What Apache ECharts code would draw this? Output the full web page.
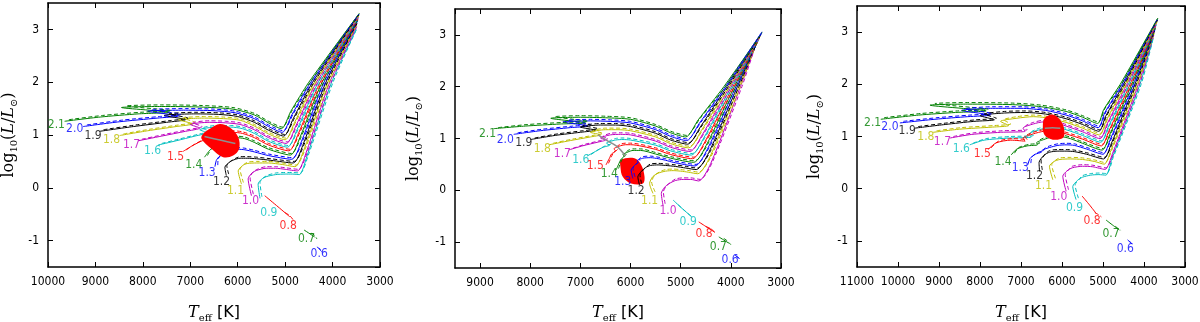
<!DOCTYPE html>
<html>
<head>
<meta charset="utf-8">
<script src="https://cdn.jsdelivr.net/npm/echarts@6.0.0/dist/echarts.min.js"></script>
<style>
html, body { margin: 0; padding: 0; background: #fff; }
#main { width: 1200px; height: 322px; }
</style>
</head>
<body>
<div id="main"></div>
<script>
// masses of the tracks, top to bottom
var masses = ['2.1', '2.0', '1.9', '1.8', '1.7', '1.6', '1.5', '1.4', '1.3', '1.2', '1.1', '1.0', '0.9', '0.8', '0.7', '0.6'];

// tracks: flat lists of Teff, log L pairs (one list per mass)
var p1Solid = [
  [9650,1.26, 8900,1.34, 8100,1.40, 7450,1.43, 8450,1.52, 7600,1.54, 6800,1.53, 6100,1.49, 5650,1.38, 5350,1.23, 5080,1.12, 4880,1.45, 4500,2.00, 3440,3.30],
  [9260,1.16, 8500,1.25, 7700,1.32, 7250,1.36, 7900,1.45, 7100,1.47, 6500,1.46, 6050,1.42, 5650,1.31, 5350,1.16, 5060,1.05, 4860,1.38, 4460,2.00, 3445,3.29],
  [8910,1.07, 8200,1.16, 7500,1.24, 7100,1.29, 7550,1.37, 6900,1.40, 6400,1.39, 6000,1.35, 5650,1.24, 5350,1.09, 5030,0.98, 4830,1.31, 4420,2.00, 3450,3.27],
  [8490,0.99, 7900,1.08, 7300,1.16, 6950,1.21, 7250,1.29, 6700,1.32, 6300,1.31, 5950,1.28, 5650,1.17, 5350,1.02, 5000,0.91, 4800,1.24, 4380,2.00, 3455,3.25],
  [8100,0.89, 7600,0.98, 7100,1.07, 6800,1.13, 7000,1.20, 6600,1.24, 6250,1.23, 5950,1.20, 5650,1.10, 5350,0.95, 4975,0.84, 4775,1.17, 4340,2.00, 3460,3.23],
  [7680,0.81, 7300,0.89, 6900,0.98, 6650,1.04, 6800,1.10, 6450,1.15, 6150,1.15, 5900,1.12, 5650,1.03, 5350,0.88, 4950,0.77, 4750,1.10, 4300,2.00, 3465,3.21],
  [7150,0.69, 6950,0.80, 6750,0.89, 6550,0.95, 6650,1.01, 6350,1.05, 6100,1.05, 5900,1.03, 5650,0.95, 5350,0.81, 4920,0.70, 4720,1.03, 4260,2.00, 3470,3.19],
  [6700,0.58, 6600,0.70, 6480,0.80, 6380,0.86, 6450,0.91, 6250,0.95, 6050,0.95, 5850,0.93, 5650,0.86, 5350,0.73, 4890,0.62, 4690,0.95, 4220,2.00, 3475,3.17],
  [6480,0.40, 6450,0.52, 6380,0.60, 6250,0.66, 6300,0.71, 6150,0.73, 6000,0.73, 5850,0.72, 5650,0.68, 5350,0.61, 4860,0.54, 4660,0.87, 4180,2.00, 3480,3.15],
  [6240,0.23, 6270,0.39, 6180,0.48, 6080,0.53, 5950,0.56, 5800,0.56, 5600,0.55, 5300,0.52, 4830,0.47, 4630,0.80, 4140,2.00, 3485,3.12],
  [5920,0.07, 5990,0.32, 5900,0.42, 5800,0.46, 5600,0.47, 5350,0.47, 5050,0.44, 4790,0.40, 4600,0.73, 4100,2.00, 3490,3.09],
  [5710,-0.15, 5780,0.17, 5700,0.28, 5600,0.33, 5400,0.37, 5200,0.37, 5000,0.35, 4740,0.32, 4560,0.66, 4060,2.00, 3495,3.05],
  [5530,-0.20, 5570,0.07, 5500,0.16, 5400,0.21, 5200,0.25, 5000,0.26, 4850,0.26, 4700,0.25, 4540,0.60, 4020,2.00, 3500,3.00],
  [5430,-0.15, 5150,-0.36, 4900,-0.55],
  [4600,-0.80, 4480,-0.87, 4380,-0.93],
  [4330,-1.12, 4250,-1.17]
];
var p1Dashed = [
  [9560,1.29, 8850,1.37, 8050,1.43, 7400,1.46, 8350,1.55, 7600,1.57, 6800,1.56, 6100,1.52, 5650,1.41, 5350,1.26, 5060,1.15, 4850,1.47, 4470,2.00, 3430,3.31],
  [9180,1.19, 8450,1.28, 7650,1.35, 7200,1.39, 7800,1.48, 7100,1.50, 6500,1.49, 6050,1.45, 5650,1.34, 5350,1.19, 5040,1.08, 4830,1.40, 4430,2.00, 3440,3.29],
  [8830,1.10, 8150,1.19, 7450,1.27, 7050,1.32, 7450,1.40, 6900,1.43, 6400,1.42, 6000,1.38, 5650,1.27, 5350,1.12, 5010,1.01, 4800,1.33, 4390,2.00, 3445,3.27],
  [8410,1.02, 7850,1.11, 7250,1.19, 6900,1.24, 7150,1.32, 6700,1.35, 6300,1.34, 5950,1.31, 5650,1.20, 5350,1.05, 4980,0.94, 4770,1.26, 4350,2.00, 3450,3.25],
  [8020,0.92, 7550,1.01, 7050,1.10, 6750,1.16, 6950,1.23, 6600,1.27, 6250,1.26, 5950,1.23, 5650,1.13, 5350,0.98, 4955,0.87, 4745,1.19, 4310,2.00, 3455,3.23],
  [7600,0.84, 7250,0.92, 6850,1.01, 6600,1.07, 6750,1.13, 6450,1.18, 6150,1.18, 5900,1.15, 5650,1.06, 5350,0.91, 4930,0.80, 4720,1.12, 4270,2.00, 3460,3.21],
  [7080,0.72, 6900,0.83, 6700,0.92, 6500,0.98, 6600,1.04, 6350,1.08, 6100,1.08, 5900,1.06, 5650,0.98, 5350,0.84, 4900,0.73, 4690,1.05, 4230,2.00, 3465,3.19],
  [6640,0.61, 6560,0.73, 6440,0.83, 6340,0.89, 6400,0.94, 6250,0.98, 6050,0.98, 5850,0.96, 5650,0.89, 5350,0.76, 4870,0.65, 4660,0.97, 4190,2.00, 3470,3.17],
  [6420,0.43, 6410,0.55, 6340,0.63, 6210,0.69, 6250,0.74, 6150,0.76, 6000,0.76, 5850,0.75, 5650,0.71, 5350,0.64, 4840,0.57, 4630,0.89, 4150,2.00, 3475,3.15],
  [6190,0.26, 6230,0.42, 6140,0.51, 6040,0.56, 5950,0.59, 5800,0.59, 5600,0.58, 5300,0.55, 4810,0.50, 4600,0.82, 4110,2.00, 3480,3.12],
  [5880,0.10, 5950,0.35, 5860,0.45, 5760,0.49, 5600,0.50, 5350,0.50, 5050,0.47, 4770,0.43, 4570,0.75, 4070,2.00, 3485,3.09],
  [5670,-0.12, 5740,0.20, 5660,0.31, 5560,0.36, 5400,0.40, 5200,0.40, 5000,0.38, 4720,0.35, 4530,0.68, 4030,2.00, 3490,3.05],
  [5490,-0.17, 5530,0.10, 5460,0.19, 5360,0.24, 5200,0.28, 5000,0.29, 4850,0.29, 4680,0.28, 4510,0.62, 3990,2.00, 3495,3.00],
  [5000,-0.47, 4900,-0.53, 4820,-0.62],
  [4450,-0.86, 4380,-0.90, 4330,-0.97],
  [4290,-1.15, 4220,-1.22]
];
var p1LabelT = [9823, 9437, 9050, 8662, 8240, 7797, 7312, 6926, 6645, 6341, 6046, 5729, 5343, 4936, 4548, 4282];
var p1LabelL = [1.20, 1.11, 0.99, 0.91, 0.82, 0.69, 0.58, 0.44, 0.28, 0.12, -0.06, -0.24, -0.48, -0.72, -0.97, -1.25];
var p1Blob = [6723,1.03, 6588,1.12, 6377,1.21, 6166,1.14, 5991,0.96, 5970,0.74, 6096,0.61, 6307,0.58, 6553,0.74, 6764,0.93];
var p1Shade = [6700,0.97, 6350,0.90, 6050,0.84];

var p2Solid = [
  [8730,1.19, 8100,1.24, 7400,1.28, 6900,1.30, 7590,1.39, 7000,1.41, 6500,1.40, 6000,1.37, 5500,1.24, 5200,1.11, 4900,1.03, 4650,1.36, 4140,2.00, 3390,3.03],
  [8330,1.08, 7800,1.15, 7200,1.21, 6850,1.24, 7350,1.32, 6800,1.34, 6400,1.33, 6000,1.30, 5500,1.17, 5200,1.04, 4880,0.96, 4630,1.29, 4110,2.00, 3380,3.06],
  [7995,0.98, 7500,1.06, 7000,1.12, 6700,1.16, 7000,1.22, 6600,1.26, 6300,1.26, 6000,1.23, 5500,1.10, 5200,0.97, 4860,0.89, 4610,1.22, 4080,2.00, 3400,3.00],
  [7620,0.88, 7200,0.96, 6800,1.03, 6600,1.07, 6800,1.12, 6500,1.17, 6250,1.17, 6000,1.15, 5500,1.03, 5200,0.90, 4840,0.82, 4590,1.15, 4050,2.00, 3415,2.97],
  [7230,0.78, 6950,0.86, 6650,0.93, 6500,0.97, 6600,1.01, 6400,1.07, 6200,1.08, 6000,1.07, 5500,0.95, 5200,0.83, 4815,0.75, 4565,1.08, 4020,2.00, 3430,2.94],
  [6870,0.66, 6700,0.75, 6550,0.83, 6420,0.87, 6480,0.91, 6300,0.97, 6150,0.98, 6000,0.97, 5500,0.87, 5200,0.76, 4790,0.68, 4540,1.01, 3990,2.00, 3445,2.91],
  [6490,0.49, 6420,0.62, 6380,0.70, 6300,0.76, 6330,0.80, 6200,0.86, 6100,0.88, 6000,0.88, 5500,0.79, 5200,0.69, 4765,0.61, 4515,0.94, 3960,2.00, 3460,2.88],
  [6290,0.39, 6230,0.52, 6190,0.60, 6130,0.66, 6150,0.69, 6050,0.74, 5950,0.77, 5800,0.77, 5500,0.70, 5200,0.62, 4740,0.54, 4490,0.87, 3930,2.00, 3475,2.85],
  [5954,0.23, 5988,0.39, 5900,0.50, 5850,0.54, 5870,0.57, 5750,0.62, 5600,0.63, 5450,0.61, 5300,0.58, 5150,0.54, 4715,0.47, 4465,0.80, 3900,2.00, 3490,2.82],
  [5821,0.10, 5854,0.26, 5780,0.37, 5700,0.44, 5600,0.48, 5450,0.49, 5300,0.48, 5100,0.46, 4900,0.43, 4690,0.40, 4440,0.73, 3870,2.00, 3505,2.79],
  [5552,-0.06, 5620,0.13, 5560,0.26, 5450,0.33, 5300,0.37, 5150,0.38, 5000,0.37, 4850,0.35, 4660,0.32, 4420,0.64, 3840,2.00, 3520,2.76],
  [5352,-0.29, 5386,-0.06, 5320,0.06, 5230,0.13, 5100,0.19, 4950,0.21, 4800,0.21, 4640,0.18, 4400,0.52, 3810,2.00, 3535,2.72],
  [5150,-0.19, 4950,-0.37, 4780,-0.51],
  [4640,-0.61, 4480,-0.71, 4320,-0.81],
  [4240,-0.90, 4140,-0.96, 4040,-1.02],
  [3920,-1.25, 3840,-1.31]
];
var p2Dashed = [
  [8640,1.21, 8050,1.27, 7350,1.31, 6850,1.33, 7500,1.42, 7000,1.44, 6500,1.43, 6000,1.40, 5500,1.27, 5200,1.14, 4880,1.06, 4620,1.38, 4110,2.00, 3375,3.05],
  [8250,1.11, 7750,1.18, 7150,1.24, 6800,1.27, 7250,1.35, 6800,1.37, 6400,1.36, 6000,1.33, 5500,1.20, 5200,1.07, 4860,0.99, 4600,1.31, 4080,2.00, 3385,3.03],
  [7910,1.01, 7450,1.09, 6950,1.15, 6650,1.19, 6950,1.25, 6600,1.29, 6300,1.29, 6000,1.26, 5500,1.13, 5200,1.00, 4840,0.92, 4580,1.24, 4050,2.00, 3405,2.99],
  [7540,0.91, 7150,0.99, 6750,1.06, 6550,1.10, 6750,1.15, 6500,1.20, 6250,1.20, 6000,1.18, 5500,1.06, 5200,0.93, 4820,0.85, 4560,1.17, 4020,2.00, 3420,2.96],
  [7150,0.81, 6900,0.89, 6600,0.96, 6450,1.00, 6550,1.04, 6400,1.10, 6200,1.11, 6000,1.10, 5500,0.98, 5200,0.86, 4795,0.78, 4535,1.10, 3990,2.00, 3435,2.93],
  [6790,0.69, 6650,0.78, 6500,0.86, 6380,0.90, 6430,0.94, 6300,1.00, 6150,1.01, 6000,1.00, 5500,0.90, 5200,0.79, 4770,0.71, 4510,1.03, 3960,2.00, 3450,2.90],
  [6440,0.52, 6380,0.65, 6340,0.73, 6260,0.79, 6280,0.83, 6200,0.89, 6100,0.91, 6000,0.91, 5500,0.82, 5200,0.72, 4745,0.64, 4485,0.96, 3930,2.00, 3465,2.87],
  [6240,0.42, 6190,0.55, 6150,0.63, 6090,0.69, 6100,0.72, 6050,0.77, 5950,0.80, 5800,0.80, 5500,0.73, 5200,0.65, 4720,0.57, 4460,0.89, 3900,2.00, 3480,2.84],
  [5910,0.26, 5950,0.42, 5860,0.53, 5810,0.57, 5830,0.60, 5750,0.65, 5600,0.66, 5450,0.64, 5300,0.61, 5150,0.57, 4695,0.50, 4435,0.82, 3870,2.00, 3495,2.81],
  [5780,0.13, 5810,0.29, 5740,0.40, 5660,0.47, 5600,0.51, 5450,0.52, 5300,0.51, 5100,0.49, 4880,0.46, 4670,0.43, 4410,0.75, 3840,2.00, 3510,2.78],
  [5510,-0.03, 5580,0.16, 5520,0.29, 5410,0.36, 5300,0.40, 5150,0.41, 5000,0.40, 4830,0.38, 4640,0.35, 4390,0.66, 3810,2.00, 3525,2.75],
  [5310,-0.26, 5345,-0.03, 5280,0.09, 5190,0.16, 5100,0.22, 4950,0.24, 4800,0.24, 4610,0.21, 4370,0.54, 3780,2.00, 3540,2.70],
  [5050,-0.28, 4900,-0.41, 4760,-0.53],
  [4500,-0.70, 4400,-0.74, 4290,-0.84],
  [4140,-0.93, 4080,-0.97, 4000,-1.05],
  [3890,-1.27, 3810,-1.33]
];
var p2LabelT = [8851, 8497, 8129, 7761, 7359, 6991, 6704, 6423, 6155, 5888, 5620, 5252, 4851, 4536, 4249, 4014];
var p2LabelL = [1.08, 0.98, 0.91, 0.80, 0.70, 0.59, 0.48, 0.31, 0.17, -0.01, -0.21, -0.39, -0.61, -0.85, -1.09, -1.34];
var p2Blob = [6188,0.59, 5921,0.62, 5787,0.49, 5721,0.26, 5754,0.13, 5988,0.13, 6155,0.26, 6202,0.46];
var p2Shade = [6650,1.07, 6450,0.95, 6250,0.83, 6100,0.66];

var p3Solid = [
  [10420,1.33, 9500,1.41, 8600,1.46, 7850,1.49, 9220,1.60, 8300,1.62, 7200,1.61, 6500,1.57, 5900,1.48, 5500,1.37, 5130,1.25, 4980,1.52, 4580,2.00, 3670,3.26],
  [9954,1.26, 9100,1.33, 8300,1.38, 7750,1.41, 8450,1.50, 7700,1.54, 7000,1.54, 6400,1.50, 5900,1.41, 5500,1.30, 5115,1.17, 4960,1.45, 4540,2.00, 3675,3.24],
  [9589,1.16, 8850,1.23, 8150,1.29, 7650,1.32, 8000,1.40, 7400,1.45, 6900,1.46, 6400,1.43, 5900,1.34, 5500,1.23, 5100,1.10, 4940,1.38, 4500,2.00, 3680,3.22],
  [9144,1.08, 8500,1.14, 7700,1.18, 7300,1.21, 7500,1.29, 7100,1.35, 6700,1.38, 6400,1.36, 5900,1.27, 5500,1.16, 5085,1.03, 4920,1.31, 4460,2.00, 3690,3.19],
  [8737,0.97, 8200,1.04, 7500,1.08, 6900,1.10, 6950,1.16, 6700,1.24, 6450,1.28, 6250,1.28, 5900,1.20, 5500,1.09, 5070,0.96, 4900,1.24, 4420,2.00, 3700,3.16],
  [8251,0.84, 7900,0.93, 7300,0.97, 6750,0.99, 6800,1.05, 6550,1.13, 6350,1.17, 6200,1.18, 5900,1.13, 5500,1.02, 5055,0.89, 4880,1.17, 4380,2.00, 3710,3.13],
  [7806,0.75, 7600,0.88, 7250,0.93, 6900,0.91, 6950,0.97, 6700,1.05, 6450,1.10, 6200,1.11, 5900,1.05, 5500,0.95, 5040,0.82, 4860,1.10, 4340,2.00, 3720,3.10],
  [7236,0.65, 7100,0.76, 6850,0.82, 6600,0.84, 6620,0.88, 6450,0.94, 6250,0.99, 6050,1.00, 5800,0.96, 5500,0.87, 5020,0.74, 4840,1.03, 4300,2.00, 3730,3.07],
  [6832,0.46, 6780,0.58, 6650,0.66, 6500,0.70, 6480,0.74, 6300,0.79, 6100,0.83, 5900,0.84, 5700,0.83, 5400,0.76, 5000,0.66, 4820,0.95, 4260,2.00, 3740,3.04],
  [6547,0.33, 6560,0.50, 6440,0.64, 6300,0.70, 6100,0.72, 5900,0.72, 5700,0.71, 5400,0.66, 4985,0.57, 4800,0.86, 4220,2.00, 3750,3.01],
  [6223,0.17, 6305,0.43, 6200,0.52, 6050,0.56, 5800,0.57, 5500,0.56, 5200,0.52, 4970,0.47, 4790,0.77, 4180,2.00, 3760,2.97],
  [5899,-0.05, 5980,0.24, 5880,0.34, 5750,0.40, 5500,0.43, 5250,0.42, 4950,0.37, 4770,0.67, 4140,2.00, 3770,2.93],
  [5656,-0.21, 5737,0.04, 5620,0.16, 5500,0.22, 5300,0.26, 5100,0.27, 4930,0.26, 4780,0.58, 4100,2.00, 3780,2.89],
  [5510,-0.14, 5330,-0.31, 5170,-0.47],
  [4926,-0.60, 4760,-0.70, 4600,-0.79],
  [4400,-0.98, 4320,-1.04]
];
var p3Dashed = [
  [10340,1.36, 9450,1.44, 8550,1.49, 7800,1.52, 9100,1.63, 8300,1.65, 7200,1.64, 6500,1.60, 5900,1.51, 5500,1.40, 5110,1.28, 4950,1.54, 4550,2.00, 3660,3.27],
  [9870,1.29, 9050,1.36, 8250,1.41, 7700,1.44, 8350,1.53, 7700,1.57, 7000,1.57, 6400,1.53, 5900,1.44, 5500,1.33, 5095,1.20, 4930,1.47, 4510,2.00, 3665,3.25],
  [9510,1.19, 8800,1.26, 8100,1.32, 7600,1.35, 7900,1.43, 7400,1.48, 6900,1.49, 6400,1.46, 5900,1.37, 5500,1.26, 5080,1.13, 4910,1.40, 4470,2.00, 3670,3.23],
  [9060,1.11, 8450,1.17, 7650,1.21, 7250,1.24, 7420,1.32, 7100,1.38, 6700,1.41, 6400,1.39, 5900,1.30, 5500,1.19, 5065,1.06, 4890,1.33, 4430,2.00, 3680,3.20],
  [8650,1.00, 8150,1.07, 7450,1.11, 6850,1.13, 6900,1.19, 6700,1.27, 6450,1.31, 6250,1.31, 5900,1.23, 5500,1.12, 5050,0.99, 4870,1.26, 4390,2.00, 3690,3.17],
  [8170,0.87, 7850,0.96, 7250,1.00, 6700,1.02, 6750,1.08, 6550,1.16, 6350,1.20, 6200,1.21, 5900,1.16, 5500,1.05, 5035,0.92, 4850,1.19, 4350,2.00, 3700,3.14],
  [7730,0.78, 7550,0.91, 7200,0.96, 6850,0.94, 6900,1.00, 6700,1.08, 6450,1.13, 6200,1.14, 5900,1.08, 5500,0.98, 5020,0.85, 4830,1.12, 4310,2.00, 3710,3.11],
  [7160,0.68, 7050,0.79, 6800,0.85, 6550,0.87, 6570,0.91, 6450,0.97, 6250,1.02, 6050,1.03, 5800,0.99, 5500,0.90, 5000,0.77, 4810,1.05, 4270,2.00, 3720,3.08],
  [6760,0.49, 6730,0.61, 6600,0.69, 6450,0.73, 6430,0.77, 6300,0.82, 6100,0.86, 5900,0.87, 5700,0.86, 5400,0.79, 4980,0.69, 4790,0.97, 4230,2.00, 3730,3.05],
  [6480,0.36, 6510,0.53, 6400,0.67, 6300,0.73, 6100,0.75, 5900,0.75, 5700,0.74, 5400,0.69, 4965,0.60, 4770,0.88, 4190,2.00, 3740,3.02],
  [6160,0.20, 6250,0.46, 6150,0.55, 6050,0.59, 5800,0.60, 5500,0.59, 5200,0.55, 4950,0.50, 4760,0.79, 4150,2.00, 3750,2.98],
  [5840,-0.02, 5920,0.27, 5830,0.37, 5750,0.43, 5500,0.46, 5250,0.45, 4930,0.40, 4740,0.69, 4110,2.00, 3760,2.94],
  [5600,-0.18, 5680,0.07, 5570,0.19, 5500,0.25, 5300,0.29, 5100,0.30, 4910,0.29, 4750,0.60, 4070,2.00, 3770,2.90],
  [5200,-0.46, 5100,-0.50, 5040,-0.54],
  [4700,-0.72, 4620,-0.77, 4560,-0.80],
  [4360,-1.00, 4290,-1.06]
];
var p3LabelT = [10619, 10197, 9776, 9321, 8916, 8454, 7943, 7440, 7018, 6670, 6451, 6078, 5696, 5266, 4804, 4456];
var p3LabelL = [1.27, 1.18, 1.10, 1.00, 0.89, 0.77, 0.67, 0.52, 0.39, 0.25, 0.06, -0.15, -0.37, -0.61, -0.87, -1.16];
var p3Blob = [6467,1.19, 6426,1.35, 6223,1.42, 6021,1.29, 5940,1.10, 5980,0.97, 6223,0.94, 6426,1.03];
var p3Shade = [6420,1.16, 6230,1.17, 6040,1.16];

var xMaxes = [10000, 9500, 11000];

// matplotlib classic colours, one per mass
var trackColors = ['#008000', '#0000ff', '#000000', '#bfbf00', '#bf00bf', '#00bfbf', '#ff0000',
                   '#008000', '#0000ff', '#000000', '#bfbf00', '#bf00bf', '#00bfbf', '#ff0000',
                   '#008000', '#0000ff'];

function pairs(flat) {
  var out = [];
  for (var i = 0; i < flat.length; i += 2) out.push([flat[i], flat[i + 1]]);
  return out;
}

var panels = [
  { solid: p1Solid, dashed: p1Dashed, labT: p1LabelT, labL: p1LabelL, blob: p1Blob, shade: p1Shade, blobZ: 4,
    grid: { left: 48, top: 3, width: 332, height: 264 }, yGap: 29, xGap: 36 },
  { solid: p2Solid, dashed: p2Dashed, labT: p2LabelT, labL: p2LabelL, blob: p2Blob, shade: p2Shade, blobZ: 1,
    grid: { left: 455, top: 9, width: 326, height: 259 }, yGap: 31, xGap: 35 },
  { solid: p3Solid, dashed: p3Dashed, labT: p3LabelT, labL: p3LabelL, blob: p3Blob, shade: p3Shade, blobZ: 4,
    grid: { left: 857, top: 6, width: 328, height: 261 }, yGap: 32, xGap: 36 }
];

var frame = { onZero: false, lineStyle: { color: '#000', width: 1.5 } };
var ticks = { inside: true, length: 5, lineStyle: { color: '#000', width: 1 } };
var plain = function (v) { return String(v); };
var mathRich = {
  n: { fontFamily: 'DejaVu Serif', fontSize: 16, color: '#000', lineHeight: 20, verticalAlign: 'middle' },
  i: { fontFamily: 'DejaVu Serif', fontStyle: 'italic', fontSize: 16, color: '#000', lineHeight: 20, verticalAlign: 'middle' },
  s: { fontFamily: 'DejaVu Serif', fontSize: 10, color: '#000', lineHeight: 12, verticalAlign: 'bottom' },
  k: { fontFamily: 'DejaVu Sans', fontSize: 16, color: '#000', lineHeight: 20, verticalAlign: 'middle' }
};

var grids = [], xAxes = [], yAxes = [], series = [];

panels.forEach(function (p, gi) {
  grids.push(Object.assign({ containLabel: false, outerBoundsMode: 'none' }, p.grid));

  xAxes.push({
    type: 'value', gridIndex: gi, position: 'bottom', inverse: true,
    min: 3000, max: xMaxes[gi], interval: 1000,
    axisLine: frame, axisTick: ticks, splitLine: { show: false },
    axisLabel: { color: '#000', fontSize: 12, fontFamily: 'DejaVu Sans Condensed', margin: 9,
                 formatter: plain, showMaxLabel: xMaxes[gi] % 1000 === 0 },
    name: '{i|T}{s|eff}{k| [K]}', nameLocation: 'middle', nameGap: p.xGap,
    nameTextStyle: { rich: mathRich }
  });
  xAxes.push({
    type: 'value', gridIndex: gi, position: 'top', inverse: true,
    min: 3000, max: xMaxes[gi], interval: 1000,
    axisLine: frame, axisTick: ticks, splitLine: { show: false }, axisLabel: { show: false }
  });
  yAxes.push({
    type: 'value', gridIndex: gi, position: 'left', min: -1.5, max: 3.5, splitNumber: 5,
    axisLine: frame, axisTick: ticks, splitLine: { show: false },
    axisLabel: { color: '#000', fontSize: 12, fontFamily: 'DejaVu Sans Condensed', margin: 9,
                 formatter: plain, showMinLabel: false, showMaxLabel: false },
    name: '{n|log}{s|10}{n|(}{i|L}{n|/}{i|L}{s|⊙}{n|)}', nameLocation: 'middle', nameGap: p.yGap,
    nameTextStyle: { rich: mathRich }
  });
  yAxes.push({
    type: 'value', gridIndex: gi, position: 'right', min: -1.5, max: 3.5, splitNumber: 5,
    axisLine: frame, axisTick: ticks, splitLine: { show: false }, axisLabel: { show: false }
  });

  var ax = 2 * gi;
  p.solid.forEach(function (track, i) {
    series.push({
      type: 'line', xAxisIndex: ax, yAxisIndex: ax, data: pairs(track), z: 2,
      symbol: 'none', smooth: 0.25, silent: true,
      lineStyle: { color: trackColors[i], width: 1 }
    });
  });
  p.dashed.forEach(function (track, i) {
    series.push({
      type: 'line', xAxisIndex: ax, yAxisIndex: ax, data: pairs(track), z: 2,
      symbol: 'none', smooth: 0.25, silent: true,
      lineStyle: { color: trackColors[i], width: 1, type: [4, 2.5] }
    });
  });

  var blobPts = pairs(p.blob);
  series.push({
    type: 'custom', xAxisIndex: ax, yAxisIndex: ax, z: p.blobZ, silent: true,
    data: [blobPts[0]],
    renderItem: function (params, api) {
      return {
        type: 'polygon',
        shape: { points: blobPts.map(function (pt) { return api.coord(pt); }), smooth: 0.35 },
        style: { fill: '#ff0000' }
      };
    }
  });
  series.push({
    type: 'line', xAxisIndex: ax, yAxisIndex: ax, data: pairs(p.shade), z: 5,
    symbol: 'none', smooth: 0.3, silent: true,
    lineStyle: { color: '#8f8f8f', width: 1.5 }
  });

  series.push({
    type: 'scatter', xAxisIndex: ax, yAxisIndex: ax, z: 6, silent: true,
    symbolSize: 1, itemStyle: { color: 'rgba(0,0,0,0)' },
    label: {
      show: true, position: 'inside', fontSize: 12, fontFamily: 'DejaVu Sans Condensed',
      formatter: function (prm) { return prm.name; }
    },
    data: p.labT.map(function (t, i) {
      return { name: masses[i], value: [t, p.labL[i]], label: { color: trackColors[i] } };
    })
  });
});

var myChart = echarts.init(document.getElementById('main'));
myChart.setOption({
  animation: false,
  backgroundColor: '#fff',
  grid: grids,
  xAxis: xAxes,
  yAxis: yAxes,
  series: series
});
</script>
</body>
</html>
